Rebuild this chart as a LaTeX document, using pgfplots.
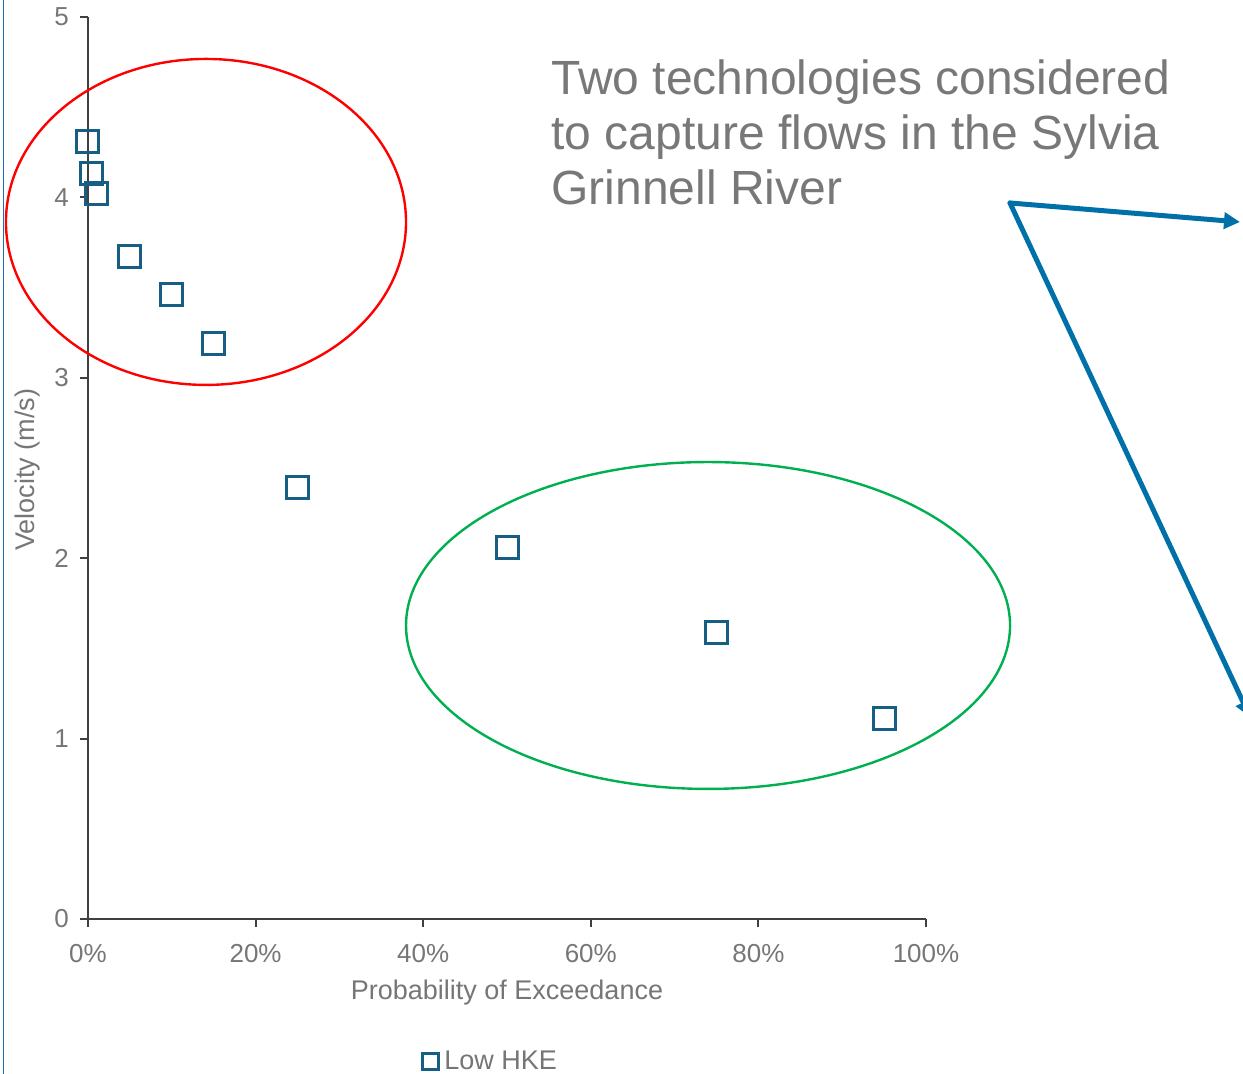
\documentclass[border=0pt]{standalone}
\usepackage{pgfplots}
\pgfplotsset{compat=1.18}
\usepackage{fontspec}
\setmainfont{Liberation Sans}
\usetikzlibrary{arrows.meta}
\definecolor{mk}{RGB}{22,94,131}
\definecolor{tk}{RGB}{118,118,118}
\definecolor{ax}{RGB}{64,64,64}
\definecolor{arr}{RGB}{0,112,168}
\definecolor{frame}{RGB}{30,110,180}
\definecolor{ttl}{RGB}{120,120,120}
\definecolor{grn}{RGB}{0,176,80}
\begin{document}
\begin{tikzpicture}
\useasboundingbox (-44pt,-77.5pt) rectangle (577.5pt,459.5pt);
\clip (-44pt,-77.5pt) rectangle (577.5pt,459.5pt);
\begin{axis}[
  at={(0pt,0pt)}, anchor=origin,
  x=419pt, y=90.2pt,
  xmin=0, xmax=1, ymin=0, ymax=5,
  axis lines*=left,
  axis line style={ax, line width=1pt},
  tick align=outside,
  major tick length=4pt,
  tick style={ax, line width=1pt},
  xtick={0,0.2,0.4,0.6,0.8,1},
  xticklabels={0\%,20\%,40\%,60\%,80\%,100\%},
  ytick={0,1,2,3,4,5},
  /pgf/number format/assume math mode=true,
  ticklabel style={font=\fontsize{13}{15}\selectfont, text=tk},
  xticklabel style={yshift=-5pt},
  yticklabel style={xshift=-2pt},
  clip=false,
  every axis y label/.style={at={(axis description cs:-0.0716,0.498)}, rotate=90, anchor=center, font=\fontsize{13.5}{15}\selectfont, text=tk},
  every axis x label/.style={at={(axis description cs:0.5,-0.082)}, anchor=center, font=\fontsize{13.5}{15}\selectfont, text=tk},
  xlabel={Probability of Exceedance},
  ylabel={Velocity (m/s)},
  legend style={at={(axis description cs:0.481,-0.158)}, anchor=center, draw=none, font=\fontsize{13.5}{15}\selectfont, text=tk, inner sep=1pt, legend cell align=left},
  legend image code/.code={\draw[mk, line width=1.5pt] (-4pt,-4pt) rectangle (4pt,4pt);},
]
\addplot[only marks, mark=square, mark size=5.5pt, mark options={draw=mk, line width=1.5pt}] coordinates {
(0.000,4.31) (0.004,4.13) (0.010,4.02) (0.05,3.67) (0.10,3.46) (0.15,3.19) (0.25,2.39) (0.50,2.06) (0.75,1.59) (0.95,1.11)
};
\addlegendentry{Low HKE}
\draw[red, line width=1.2pt] (axis cs:0.1408,3.864) ellipse [x radius=0.2387, y radius=0.9035];
\draw[grn, line width=1.2pt] (axis cs:0.7399,1.627) ellipse [x radius=0.3604, y radius=0.906];
\end{axis}
\draw[frame, line width=0.9pt] (-42.2pt,-80pt) -- (-42.2pt,462pt);
\node[anchor=base west, inner sep=0pt, text=ttl, font=\fontsize{24}{28}\selectfont] at (231.5pt,412pt) {Two technologies considered};
\node[anchor=base west, inner sep=0pt, text=ttl, font=\fontsize{24}{28}\selectfont] at (231.5pt,384.5pt) {to capture flows in the Sylvia};
\node[anchor=base west, inner sep=0pt, text=ttl, font=\fontsize{24}{28}\selectfont] at (231.5pt,357pt) {Grinnell River};
\draw[arr, line width=2.5pt, line cap=round, -{Triangle[length=8pt,width=8pt]}] (461pt,358pt) -- (576pt,348.5pt);
\draw[arr, line width=2.5pt, line cap=round, -{Triangle[length=8pt,width=8pt]}] (461pt,358pt) -- (581pt,101pt);
\end{tikzpicture}
\end{document}
